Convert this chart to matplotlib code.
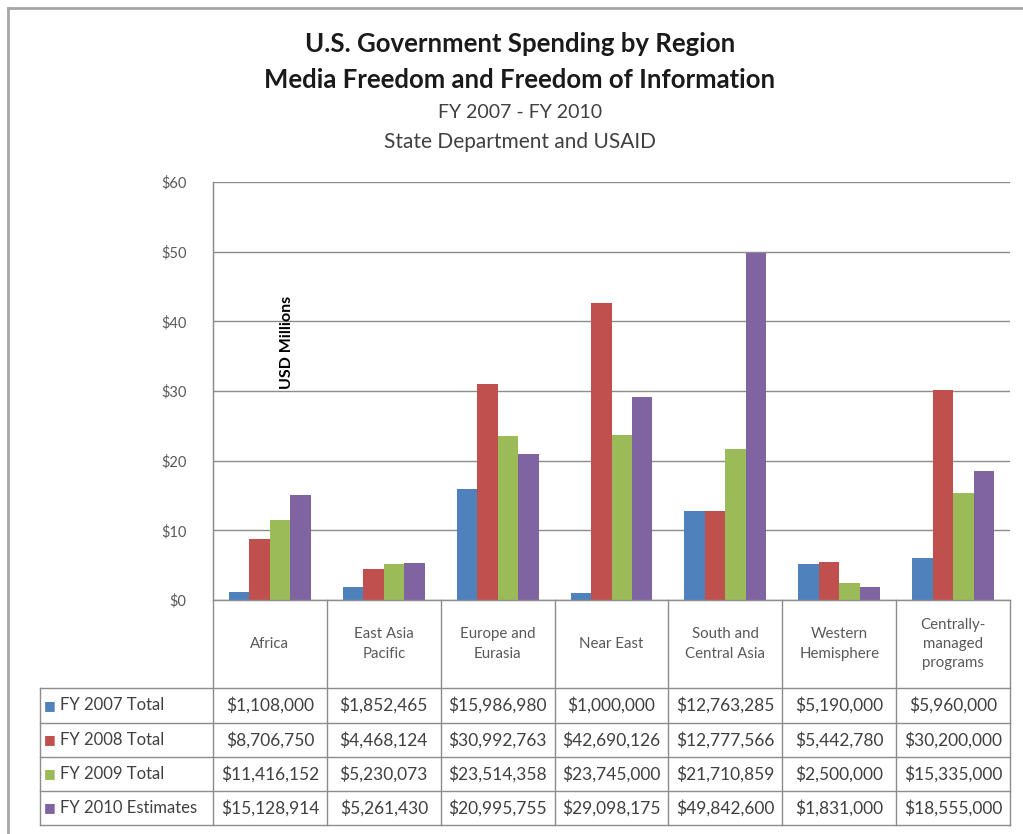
import numpy as np
import matplotlib
matplotlib.use("Agg")
import matplotlib.pyplot as plt
from matplotlib.lines import Line2D

plt.rcParams['font.family'] = ['Lato', 'DejaVu Sans']

regions = ["Africa", "East Asia\nPacific", "Europe and\nEurasia", "Near East",
           "South and\nCentral Asia", "Western\nHemisphere", "Centrally-\nmanaged\nprograms"]
series = ["FY 2007 Total", "FY 2008 Total", "FY 2009 Total", "FY 2010 Estimates"]
fy2007 = [1108000, 1852465, 15986980, 1000000, 12763285, 5190000, 5960000]
fy2008 = [8706750, 4468124, 30992763, 42690126, 12777566, 5442780, 30200000]
fy2009 = [11416152, 5230073, 23514358, 23745000, 21710859, 2500000, 15335000]
fy2010 = [15128914, 5261430, 20995755, 29098175, 49842600, 1831000, 18555000]
colors = ["#4F81BD", "#C0504D", "#9BBB59", "#8064A2"]
yticks = [0, 10, 20, 30, 40, 50, 60]

W, H = 1023, 834
fig = plt.figure(figsize=(W / 100, H / 100), dpi=100)


def fx(x):
    return x / W


def fy(y):
    return 1 - y / H


def hline(y, x0, x1, color="#8C8C8C", lw=1.0):
    fig.add_artist(Line2D([fx(x0), fx(x1)], [fy(y), fy(y)], color=color, lw=lw))


def vline(x, y0, y1, color="#8C8C8C", lw=1.0):
    fig.add_artist(Line2D([fx(x), fx(x)], [fy(y0), fy(y1)], color=color, lw=lw))


# plot area in pixels
L, R, T, B = 213, 1010, 182, 600
ax = fig.add_axes([fx(L), fy(B), fx(R - L), (B - T) / H])

data = [fy2007, fy2008, fy2009, fy2010]
x = np.arange(len(regions))
bw = 0.18
for i, vals in enumerate(data):
    ax.bar(x + (i - 1.5) * bw, np.array(vals) / 1e6, bw, color=colors[i], zorder=3)

ax.set_xlim(-0.5, len(regions) - 0.5)
ax.set_ylim(0, 60)
ax.set_yticks(yticks)
ax.set_yticklabels(["$%d" % t for t in yticks], color="#595959", fontsize=10.5)
ax.set_xticks([])
ax.tick_params(axis="y", length=0, pad=19)
ax.grid(axis="y", color="#8C8C8C", lw=1, zorder=0)
for s in ["top", "right", "bottom"]:
    ax.spines[s].set_visible(False)
ax.spines["left"].set_color("#8C8C8C")
ax.text(0.093, 0.617, "USD Millions", transform=ax.transAxes, rotation=90,
        fontsize=11.5, fontweight="bold", ha="center", va="center")

# titles
fig.text(0.508, fy(44), "U.S. Government Spending by Region", ha="center", va="center",
         fontsize=18.5, fontweight="bold", color="#1a1a1a")
fig.text(0.508, fy(80), "Media Freedom and Freedom of Information", ha="center", va="center",
         fontsize=18.5, fontweight="bold", color="#1a1a1a")
fig.text(0.508, fy(112), "FY 2007 - FY 2010", ha="center", va="center",
         fontsize=14, color="#404040")
fig.text(0.508, fy(142), "State Department and USAID", ha="center", va="center",
         fontsize=15, color="#404040")

# data table below the plot
rows = [688, 723, 757, 791, 825]
cw = (R - L) / len(regions)
cols = [L + i * cw for i in range(len(regions) + 1)]
hline(B, L, R)
for y in rows:
    hline(y, 40, R)
for c in cols:
    vline(c, B if c != L else T, rows[-1])
vline(40, rows[0], rows[-1])

for j, name in enumerate(regions):
    fig.text(fx(cols[j] + cw / 2), fy((B + rows[0]) / 2), name, ha="center", va="center",
             fontsize=10.8, color="#595959", linespacing=1.5)

for i, vals in enumerate(data):
    yc = fy((rows[i] + rows[i + 1]) / 2)
    fig.text(fx(50), yc, "\u25A0", ha="center", va="center", fontsize=9, color=colors[i],
             family="DejaVu Sans")
    fig.text(fx(60), yc, series[i], ha="left", va="center", fontsize=12, color="#404040")
    for j, v in enumerate(vals):
        fig.text(fx(cols[j] + cw / 2), yc, "${:,}".format(v), ha="center", va="center",
                 fontsize=12.5, color="#404040")

# outer chart border
hline(8, 8, W, color="#A6A6A6", lw=2)
vline(8, 8, H, color="#A6A6A6", lw=2)

fig.savefig("out.png", dpi=100)
